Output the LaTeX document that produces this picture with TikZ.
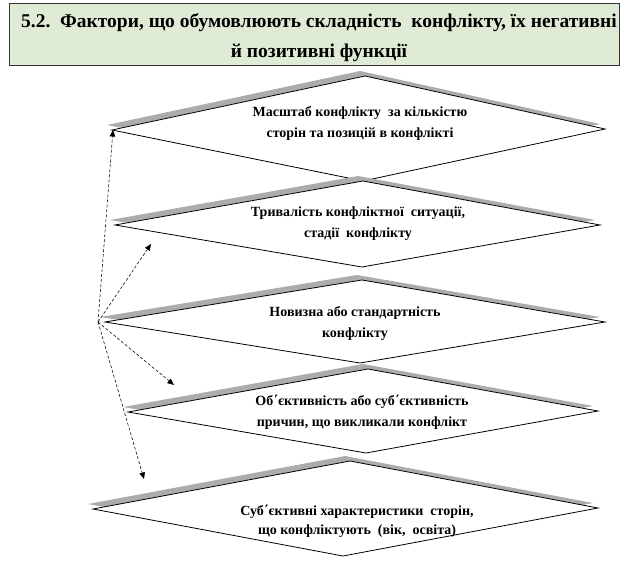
\documentclass[tikz,border=0pt]{standalone}
\usepackage{fontspec}
\setmainfont{Liberation Serif}[BoldFont={Liberation Serif Bold}]
\usetikzlibrary{arrows.meta}
\definecolor{titlefill}{RGB}{224,235,214}
\definecolor{shadowgray}{RGB}{172,172,172}
\begin{document}
\begin{tikzpicture}[x=1pt,y=-1pt,
  shadowc/.style={fill=shadowgray},
  diabox/.style={fill=white, draw=black, line width=0.8pt},
  lbl/.style={font=\bfseries\fontsize{14}{21}\selectfont, align=center, inner sep=0pt},
  titlebox/.style={fill=titlefill, draw=black!80, line width=1pt},
  conn/.style={dash pattern=on 3pt off 2pt, line width=0.55pt, -{Triangle[length=6.5pt,width=5.5pt]}}
]
\useasboundingbox (0,0) rectangle (624,567);
% title
\path[titlebox] (9,4) rectangle (619,66);
\node[font=\bfseries\fontsize{19.5}{30}\selectfont, align=center, inner sep=0pt] (title) at (319,38)
  {5.2.\ \ Фактори, що обумовлюють складність\ \ конфлікту, їх негативні\\ й позитивні функції};
% diamond 1
\fill[shadowc, shift={(-5,-5)}] (365,76) -- (605,129) -- (363,181) -- (112,130) -- cycle;
\path[diabox] (365,76) -- (605,129) -- (363,181) -- (112,130) -- cycle;
% diamond 2
\fill[shadowc, shift={(-5,-5)}] (363,181) -- (600,225) -- (362,267) -- (115,225) -- cycle;
\path[diabox] (363,181) -- (600,225) -- (362,267) -- (115,225) -- cycle;
% diamond 3
\fill[shadowc, shift={(-5,-5)}] (362,280) -- (605,322) -- (360,363) -- (105,322) -- cycle;
\path[diabox] (362,280) -- (605,322) -- (360,363) -- (105,322) -- cycle;
% diamond 4
\fill[shadowc, shift={(-5,-5)}] (368,369) -- (598,411) -- (366,453) -- (128,412) -- cycle;
\path[diabox] (368,369) -- (598,411) -- (366,453) -- (128,412) -- cycle;
% diamond 5
\fill[shadowc, shift={(-5,-5)}] (350,461) -- (598,508) -- (343,556) -- (93,509) -- cycle;
\path[diabox] (350,461) -- (598,508) -- (343,556) -- (93,509) -- cycle;
% labels
\node[lbl] (d1) at (360,123) {Масштаб конфлікту\ \ за кількістю\\ сторін та позицій в конфлікті};
\node[lbl] (d2) at (358,224) {Тривалість конфліктної\ \ ситуації,\\ стадії\ \ конфлікту};
\node[lbl] (d3) at (355,323) {Новизна або стандартність\\ конфлікту};
\node[lbl] (d4) at (362,412) {Об΄єктивність або суб΄єктивність\\ причин, що викликали конфлікт};
\node[lbl, font=\bfseries\fontsize{14}{19}\selectfont] (d5) at (357,521) {Суб΄єктивні характеристики\ \ сторін,\\ що конфліктують\ \ (вік,\ \ освіта)};
% connectors
\coordinate (src) at (98,322);
\coordinate (t1) at (113,130);
\coordinate (t2) at (151,244);
\coordinate (t3) at (174,385);
\coordinate (t4) at (144,479);
\draw[conn] (src) -- (t1);
\draw[conn] (src) -- (t2);
\draw[conn] (src) -- (t3);
\draw[conn] (src) -- (t4);
\end{tikzpicture}
\end{document}
